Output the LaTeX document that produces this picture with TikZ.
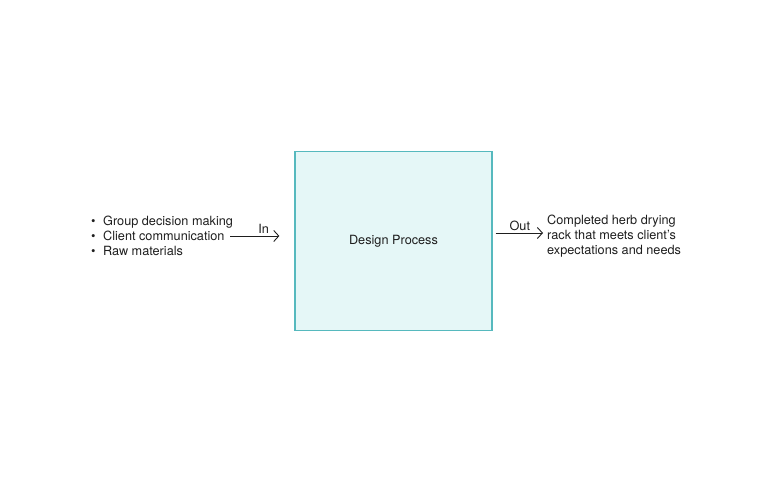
\documentclass[tikz,border=0pt]{standalone}
\usepackage{fontspec}
\setmainfont{TeX Gyre Heros}
\usetikzlibrary{arrows.meta}

\definecolor{boxline}{RGB}{86,185,190}
\definecolor{boxfill}{RGB}{229,247,247}
\definecolor{ink}{RGB}{30,30,30}

\begin{document}
\begin{tikzpicture}[x=1pt, y=1pt, >={Straight Barb[length=5pt,width=11pt]},
        every node/.style={text=ink, font=\fontsize{12.7}{15.3}\selectfont}]
        \useasboundingbox (0, 0) rectangle (779, 480);
        \node (MB) [draw=boxline, fill=boxfill, line width=1.3pt, minimum width=197pt, minimum height=179pt] at (393.5, 239) {Design Process};
        \node (LI) [anchor=west, align=left, inner sep=0pt] at (91, 244) {\textbullet\hspace{7.5pt}Group decision making\\ \textbullet\hspace{7.5pt}Client communication\\ \textbullet\hspace{7.5pt}Raw materials};
        \node (RO) [anchor=west, align=left, inner sep=0pt] at (547, 244) {Completed herb drying\\ rack that meets client's\\ expectations and needs};
        \draw [->, ink, line width=0.9pt, shorten <=-3pt, shorten >=15pt] (LI.east) -- node [above, inner sep=2pt] {In} (LI.east -| MB.west);
        \draw [->, ink, line width=0.9pt, shorten <=3pt, shorten >=4pt] ([yshift=3pt]MB.east |- RO.west) -- node [above, inner sep=2pt] {Out} ([yshift=3pt]RO.west);
\end{tikzpicture}
\end{document}
